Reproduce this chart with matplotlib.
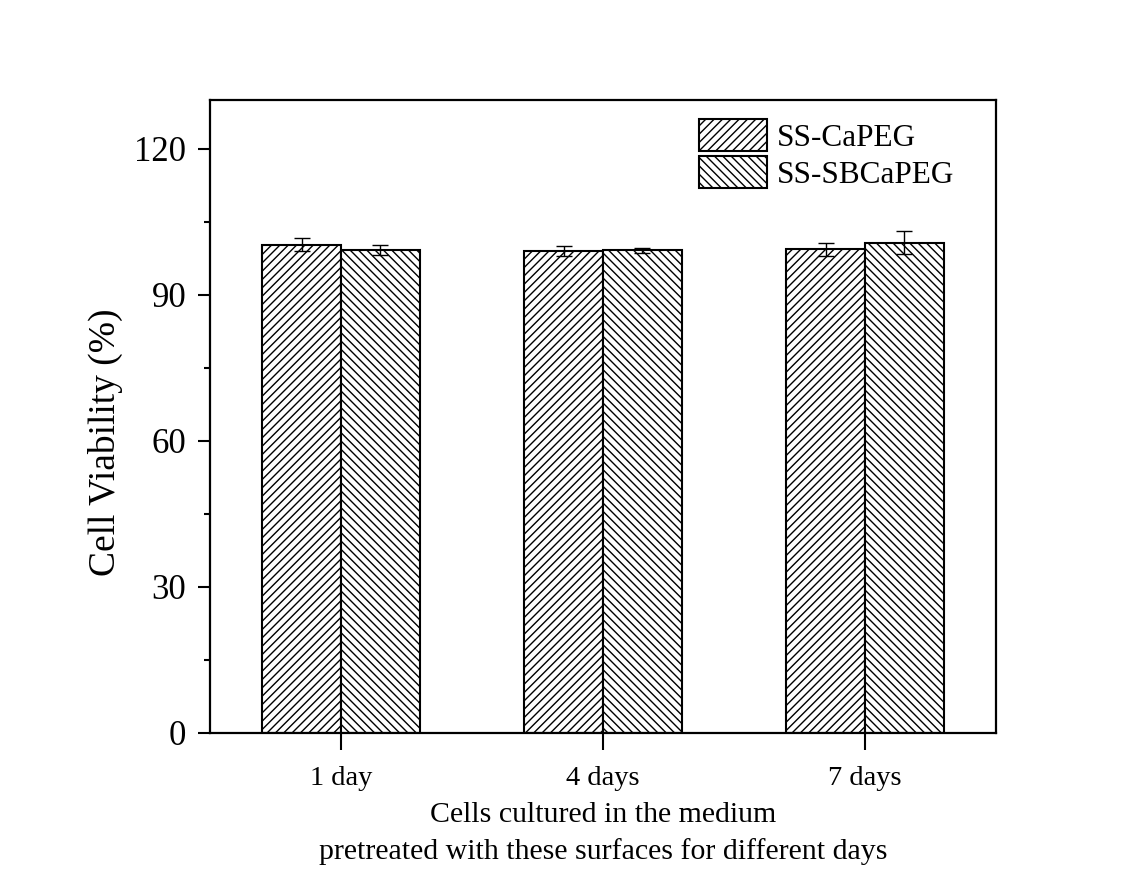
import numpy as np
import matplotlib
matplotlib.use("Agg")
import matplotlib.pyplot as plt
from matplotlib.ticker import MultipleLocator

# ==========================================
# DATA
# ==========================================

days = ["1 day", "4 days", "7 days"]
series = ["SS-CaPEG", "SS-SBCaPEG"]

capeg_mean = [100.3, 99.0, 99.3]
capeg_err = [1.3, 1.1, 1.3]

sbcapeg_mean = [99.2, 99.1, 100.7]
sbcapeg_err = [1.0, 0.5, 2.3]

# ==========================================
# STYLE
# ==========================================

plt.rcParams["font.family"] = ["Liberation Serif", "DejaVu Serif"]
plt.rcParams["hatch.linewidth"] = 1.0

fig = plt.figure(figsize=(11.43, 8.73), dpi=100)
ax = fig.add_axes([0.1837, 0.1604, 0.6877, 0.7251])

x = np.arange(1, len(days) + 1)
width = 0.30

err_style = dict(ecolor="black", elinewidth=1, capsize=6, capthick=1)

ax.bar(x - width / 2, capeg_mean, width, yerr=capeg_err,
       color="white", edgecolor="black", linewidth=1.5, hatch="////",
       error_kw=err_style, label=series[0])
ax.bar(x + width / 2, sbcapeg_mean, width, yerr=sbcapeg_err,
       color="white", edgecolor="black", linewidth=1.5, hatch="\\\\\\\\",
       error_kw=err_style, label=series[1])

# ==========================================
# AXES
# ==========================================

ax.set_xlim(0.5, 3.5)
ax.set_ylim(0, 130)
ax.set_xticks(x)
ax.set_xticklabels(days)
ax.set_yticks([0, 30, 60, 90, 120])
ax.yaxis.set_minor_locator(MultipleLocator(15))

for side in ax.spines.values():
    side.set_linewidth(1.6)

ax.tick_params(axis="y", which="major", direction="out", length=9,
               width=1.5, labelsize=25, pad=8)
ax.tick_params(axis="y", which="minor", direction="out", length=4, width=1.5)
ax.tick_params(axis="x", which="major", direction="out", length=12,
               width=1.5, labelsize=20.5, pad=12)
ax.tick_params(top=False, right=False)

ax.set_ylabel("Cell Viability (%)", fontsize=27)
ax.yaxis.set_label_coords(-0.111, 0.46)
ax.set_xlabel("Cells cultured in the medium\npretreated with these surfaces for different days",
              fontsize=21.5, linespacing=1.45, labelpad=8)

# ==========================================
# LEGEND
# ==========================================

ax.legend(loc="upper left", bbox_to_anchor=(699 / 1143, 1 - 119 / 873),
          bbox_transform=fig.transFigure, frameon=False,
          fontsize=22.5, handlelength=2.17, handleheight=1.22,
          handletextpad=0.33, labelspacing=0.1, borderpad=0, borderaxespad=0)

fig.savefig("out.png", dpi=100)
